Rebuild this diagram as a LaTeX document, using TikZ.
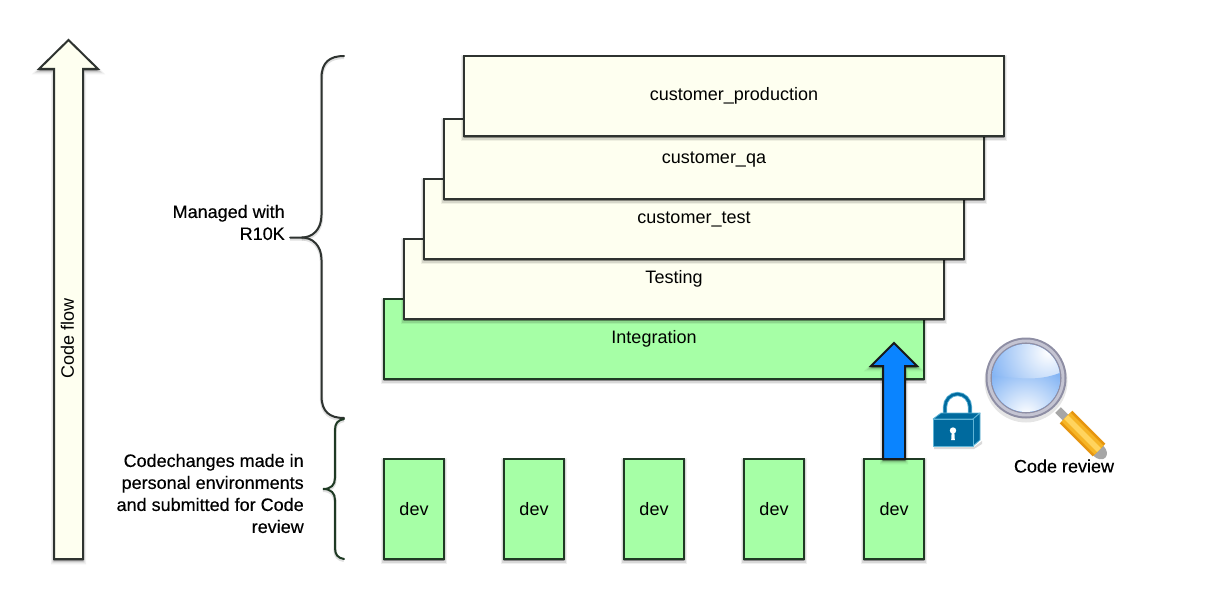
\documentclass[tikz,border=0pt]{standalone}
\usepackage{fontspec}
\setmainfont{Liberation Sans}
\newfontface\heavyface[FakeBold=0.35]{Liberation Sans}
\usetikzlibrary{shadings,fadings}
\definecolor{cream}{HTML}{FEFFF0}
\definecolor{mint}{HTML}{A6FFA6}
\definecolor{edge}{HTML}{2E3330}
\definecolor{edgeg}{HTML}{1F3A24}
\definecolor{bluefill}{HTML}{0A84FF}
\definecolor{lockblue}{HTML}{006A9E}
\definecolor{locklight}{HTML}{5FB4D6}
\definecolor{lensblue}{HTML}{5C9CF0}
\definecolor{lensmid}{HTML}{6FA8F2}
\definecolor{ringgrey}{HTML}{8E8EA4}
\definecolor{ringlight}{HTML}{C4C4D2}
\definecolor{goldout}{HTML}{E6950F}
\definecolor{goldmid}{HTML}{F6B526}
\definecolor{goldin}{HTML}{FFD45E}
\tikzset{
  x=0.75pt,y=-0.75pt,
  softshadow/.style={
    preaction={draw=black,opacity=.06,line width=4.5pt,fill=black,transform canvas={yshift=-1.8pt}},
    preaction={draw=black,opacity=.10,line width=2.6pt,fill=black,transform canvas={yshift=-1.5pt}},
    preaction={draw=black,opacity=.14,line width=1.2pt,fill=black,transform canvas={yshift=-1.2pt}}},
  boxfont/.style={font=\fontsize{13.5}{16}\selectfont},
  stackbox/.style={rectangle,draw=edge,line width=1.5pt,fill=cream,minimum width=405pt,minimum height=60pt,inner sep=0pt,softshadow},
  greenbox/.style={stackbox,draw=edgeg,fill=mint},
  stacklabel/.style={boxfont,inner sep=0pt},
  devbox/.style={rectangle,draw=edgeg,line width=1.5pt,fill=mint,minimum width=45pt,minimum height=75pt,inner sep=0pt,boxfont,softshadow},
  note/.style={inner sep=0pt,align=right,font=\heavyface\fontsize{13.5}{16.5}\selectfont},
  brace/.style={draw=#1,line width=1.5pt,line cap=round,preaction={draw=black,opacity=.12,line width=2.6pt,transform canvas={yshift=-1pt}}},
  blockarrow/.style={line width=1.5pt,line join=miter,softshadow}
}
\begin{document}
\begin{tikzpicture}
\useasboundingbox (0,0) rectangle (1224,599);
% code flow arrow
\draw[blockarrow,draw=edge,fill=cream] (54,559) -- (54,69) -- (39,69) -- (68.5,40) -- (98,69) -- (83,69) -- (83,559) -- cycle;
\node[rotate=90,stacklabel] (flow) at (67.5,338) {Code flow};
% braces
\draw[brace=edge] (344,56) .. controls (330,56) and (321.5,62) .. (321.5,78) -- (321.5,215) .. controls (321.5,230) and (312,237.5) .. (302,237.5) -- (290,237.5);
\draw[brace=edge] (302,237.5) .. controls (312,237.5) and (321.5,245) .. (321.5,260) -- (321.5,396) .. controls (321.5,412) and (330,418) .. (344,418);
\draw[brace=edgeg] (344,419) .. controls (338,420) and (335,423) .. (335,430) -- (335,478) .. controls (335,485) and (331,489) .. (323,489) .. controls (331,489) and (335,493) .. (335,500) -- (335,548) .. controls (335,555) and (338,558) .. (344,559);
\node[note,anchor=east] (managed) at (285,222.5) {Managed with\\R10K};
\node[note,anchor=east] (changes) at (304,493.5) {Codechanges made in\\personal environments\\and submitted for Code\\review};
% stack
\node[greenbox] (integration) at (654,339) {};
\node[stackbox] (testing) at (674,279) {};
\node[stackbox] (ctest) at (694,219) {};
\node[stackbox] (cqa) at (714,159) {};
\node[stackbox] (cprod) at (734,96) {};
\node[stacklabel] (tintegration) at (654,339) {Integration};
\node[stacklabel] (ttesting) at (674,279) {Testing};
\node[stacklabel] (tctest) at (694,219.5) {customer\_test};
\node[stacklabel] (tcqa) at (714,159.5) {customer\_qa};
\node[stacklabel] (tcprod) at (734,96) {customer\_production};
% dev
\foreach \n/\x in {a/414,b/534,c/654,d/774,e/894}
  \node[devbox] (dev\n) at (\x,509) {\raisebox{.7pt}{dev}};
% blue arrow
\draw[blockarrow,draw=black!90,fill=bluefill] (883,459) -- (883,366) -- (871,366) -- (894,343) -- (917,366) -- (905,366) -- (905,459) -- cycle;
% lock
\draw[line width=3.2pt,draw=locklight] (945,416) -- (945,407) arc[start angle=180,end angle=360,x radius=12.5,y radius=13] -- (970,416);
\draw[line width=1.9pt,draw=lockblue] (945,416) -- (945,407) arc[start angle=180,end angle=360,x radius=12.5,y radius=13] -- (970,416);
\fill[black,opacity=.15] (934,447) -- (974,447) -- (982,441) -- (982,444) -- (974,449) -- (934,449) -- cycle;
\draw[fill=lockblue,draw=locklight,line width=.6pt,line join=round] (933,419) -- (941,413) -- (980,413) -- (973,419) -- cycle;
\draw[fill=lockblue,draw=locklight,line width=.6pt,line join=round] (973,419) -- (980,413) -- (980,440) -- (973,446) -- cycle;
\draw[fill=lockblue,draw=locklight,line width=.6pt,line join=round] (933,419) rectangle (973,446);
\fill[white] (953,430.5) circle[radius=3.2];
\fill[white] (951.7,431) -- (954.3,431) -- (954.8,440) -- (951.2,440) -- cycle;
% magnifier
\fill[black,opacity=.10] (1026,381) circle[radius=41.5];
\draw[line width=6pt,draw=black!35] (1058,410) -- (1068,420);
\fill[black!35,rotate around={45:(1100,451)}] (1099,450) ellipse[x radius=7,y radius=9.5];
\draw[line width=13.5pt,draw=goldout] (1066,417) -- (1099,450);
\draw[line width=9.5pt,draw=goldmid] (1066,417) -- (1099,450);
\draw[line width=4pt,draw=goldin] (1066,417) -- (1099,450);
\fill[even odd rule,ringgrey] (1026,378) circle[radius=40.5] (1026,378) circle[radius=33];
\draw[line width=2.2pt,draw=ringlight] (1026,378) circle[radius=37];
\begin{scope}
\clip (1026,378) circle[radius=34];
\fill[lensblue] (990,342) rectangle (1062,414);
\shade[inner color=white,outer color=lensblue] (968,272) rectangle (1128,432);
\begin{scope}
\clip (982,378) .. controls (1005,372) and (1035,388) .. (1070,368) -- (1070,436) -- (982,436) -- cycle;
\shade[inner color=white,outer color=lensmid] (966,355) rectangle (1086,475);
\end{scope}
\end{scope}
\node[stacklabel,font=\heavyface\fontsize{13.5}{16}\selectfont] (review) at (1064,466) {Code review};
\end{tikzpicture}
\end{document}
